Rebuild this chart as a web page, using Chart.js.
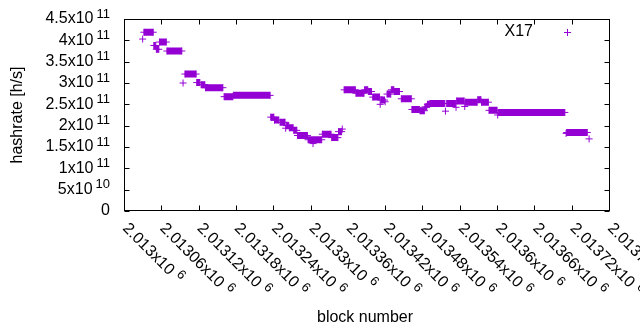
<!DOCTYPE html>
<html lang="en">
<head>
<meta charset="UTF-8">
<title>hashrate per block</title>
<script src="https://cdn.jsdelivr.net/npm/chart.js"></script>
<style>
  body { margin: 0; background: #fff; }
  #wrap { width: 640px; height: 330px; }
</style>
</head>
<body>
<div id="wrap"><canvas id="chartCanvas" width="640" height="330"></canvas></div>
<script>
// runs of blocks with the same hashrate: first block, last block, hashrate [h/s]
const runStart = [2013030, 2013032, 2013048, 2013052, 2013057, 2013069, 2013095, 2013098, 2013117, 2013124,
                  2013131, 2013161, 2013176, 2013236, 2013242, 2013251, 2013260, 2013261, 2013266, 2013273,
                  2013279, 2013296, 2013304, 2013319, 2013334, 2013345, 2013351, 2013354, 2013373, 2013387,
                  2013393, 2013400, 2013412, 2013413, 2013420, 2013423, 2013430, 2013435, 2013446, 2013463,
                  2013476, 2013484, 2013488, 2013492, 2013517, 2013519, 2013534, 2013535, 2013548, 2013549,
                  2013569, 2013575, 2013587, 2013601, 2013602, 2013711, 2013712, 2013748];
const runEnd   = [2013030, 2013047, 2013051, 2013056, 2013068, 2013093, 2013095, 2013116, 2013122, 2013130,
                  2013159, 2013175, 2013235, 2013241, 2013249, 2013259, 2013260, 2013265, 2013272, 2013278,
                  2013295, 2013318, 2013304, 2013333, 2013344, 2013350, 2013351, 2013372, 2013386, 2013392,
                  2013398, 2013411, 2013412, 2013419, 2013420, 2013429, 2013434, 2013443, 2013462, 2013475,
                  2013483, 2013487, 2013491, 2013516, 2013517, 2013533, 2013534, 2013547, 2013548, 2013568,
                  2013574, 2013586, 2013600, 2013601, 2013709, 2013711, 2013745, 2013748];
const runHash  = [403e9, 419e9, 388e9, 379e9, 396e9, 375e9, 300e9, 321e9, 301e9, 296e9,
                  289e9, 268e9, 271e9, 220e9, 213e9, 208e9, 194e9, 200e9, 195e9, 189e9,
                  177e9, 167e9, 158e9, 180e9, 172e9, 186e9, 192e9, 284e9, 276e9, 284e9,
                  280e9, 267e9, 250e9, 260e9, 256e9, 274e9, 284e9, 280e9, 263e9, 238e9,
                  235e9, 244e9, 250e9, 252e9, 234e9, 252e9, 243e9, 258e9, 245e9, 255e9,
                  261e9, 255e9, 236e9, 225e9, 231e9, 182e9, 184e9, 169e9];

const xTicks = [2013000, 2013060, 2013120, 2013180, 2013240, 2013300, 2013360,
                2013420, 2013480, 2013540, 2013600, 2013660, 2013720, 2013780];
const xTickLabels = ['2.013', '2.01306', '2.01312', '2.01318', '2.01324', '2.0133', '2.01336',
                     '2.01342', '2.01348', '2.01354', '2.0136', '2.01366', '2.01372', '2.01378'];
const xTickExp = '6';
const yTicks = [0, 5e10, 1e11, 1.5e11, 2e11, 2.5e11, 3e11, 3.5e11, 4e11, 4.5e11];
const yTickLabels = ['0', '5x10', '1x10', '1.5x10', '2x10', '2.5x10', '3x10', '3.5x10', '4x10', '4.5x10'];
const yTickExps = ['', '10', '11', '11', '11', '11', '11', '11', '11', '11'];

const seriesName = 'X17';
const purple = '#9400d3';
const mainFont = '16px "Liberation Sans", Arial, sans-serif';
const supFont = '13px "Liberation Sans", Arial, sans-serif';

const points = [];
runStart.forEach((s, i) => {
  points.push({ x: s, y: runHash[i] });
  if (runEnd[i] > s) points.push({ x: runEnd[i], y: runHash[i] });
  points.push({ x: runEnd[i], y: null });
});

const frame = {
  id: 'frame',
  afterDraw(chart) {
    const { ctx, chartArea: a, scales: { x, y } } = chart;
    const L = Math.round(a.left) + 0.5, R = Math.round(a.right) + 0.5;
    const T = Math.round(a.top) + 0.5, B = Math.round(a.bottom) - 0.5;
    ctx.save();
    ctx.strokeStyle = '#000';
    ctx.lineWidth = 1;
    ctx.strokeRect(L, T, R - L, B - T);
    ctx.beginPath();
    xTicks.forEach(v => {
      const px = Math.round(x.getPixelForValue(v)) + 0.5;
      ctx.moveTo(px, B); ctx.lineTo(px, B - 5);
      ctx.moveTo(px, T); ctx.lineTo(px, T + 5);
    });
    yTicks.forEach(v => {
      const py = Math.round(y.getPixelForValue(v)) + 0.5;
      ctx.moveTo(L, py); ctx.lineTo(L + 5, py);
      ctx.moveTo(R, py); ctx.lineTo(R - 5, py);
    });
    ctx.stroke();

    ctx.fillStyle = '#000';
    ctx.textBaseline = 'middle';
    // y tick labels
    yTicks.forEach((v, i) => {
      const py = y.getPixelForValue(v);
      let right = 110;
      ctx.textAlign = 'right';
      if (yTickExps[i]) {
        ctx.font = supFont;
        ctx.fillText(yTickExps[i], right, py - 5);
        right -= ctx.measureText(yTickExps[i]).width + 3;
      }
      ctx.font = mainFont;
      ctx.fillText(yTickLabels[i], right, py);
    });
    // x tick labels, turned 45 degrees
    xTicks.forEach((v, i) => {
      const px = x.getPixelForValue(v);
      ctx.save();
      ctx.translate(px + 1, 226);
      ctx.rotate(Math.PI / 4);
      ctx.textAlign = 'left';
      ctx.font = mainFont;
      const txt = xTickLabels[i] + 'x10';
      ctx.fillText(txt, 0, 0);
      const w = ctx.measureText(txt).width;
      ctx.font = supFont;
      ctx.fillText(xTickExp, w + 5, -5);
      ctx.restore();
    });
    // axis titles
    ctx.font = mainFont;
    ctx.textAlign = 'center';
    ctx.textBaseline = 'alphabetic';
    ctx.fillText('block number', 365, 322);
    ctx.save();
    ctx.translate(22, (a.top + a.bottom) / 2);
    ctx.rotate(-Math.PI / 2);
    ctx.fillText('hashrate [h/s]', 0, 0);
    ctx.restore();
    // key
    ctx.textAlign = 'right';
    ctx.textBaseline = 'middle';
    ctx.fillText(seriesName, 533, 32);
    ctx.strokeStyle = purple;
    Chart.helpers.drawPoint(ctx, { pointStyle: 'cross', radius: 3.5, borderWidth: 1 }, 567.5, 32.5);
    ctx.restore();
  }
};

new Chart(document.getElementById('chartCanvas').getContext('2d'), {
  type: 'scatter',
  data: {
    datasets: [{
      label: seriesName,
      data: points,
      showLine: true,
      spanGaps: false,
      borderColor: purple,
      borderWidth: 7,
      borderCapStyle: 'butt',
      pointStyle: 'cross',
      pointRadius: 3.5,
      pointBorderWidth: 1,
      pointBorderColor: purple,
      pointBackgroundColor: purple
    }]
  },
  options: {
    responsive: false,
    animation: false,
    layout: { padding: { left: 124, top: 19, right: 31, bottom: 119 } },
    plugins: { legend: { display: false }, tooltip: { enabled: false } },
    scales: {
      x: { type: 'linear', min: 2013000, max: 2013780, display: false },
      y: { min: 0, max: 4.5e11, display: false }
    }
  },
  plugins: [frame]
});
</script>
</body>
</html>
